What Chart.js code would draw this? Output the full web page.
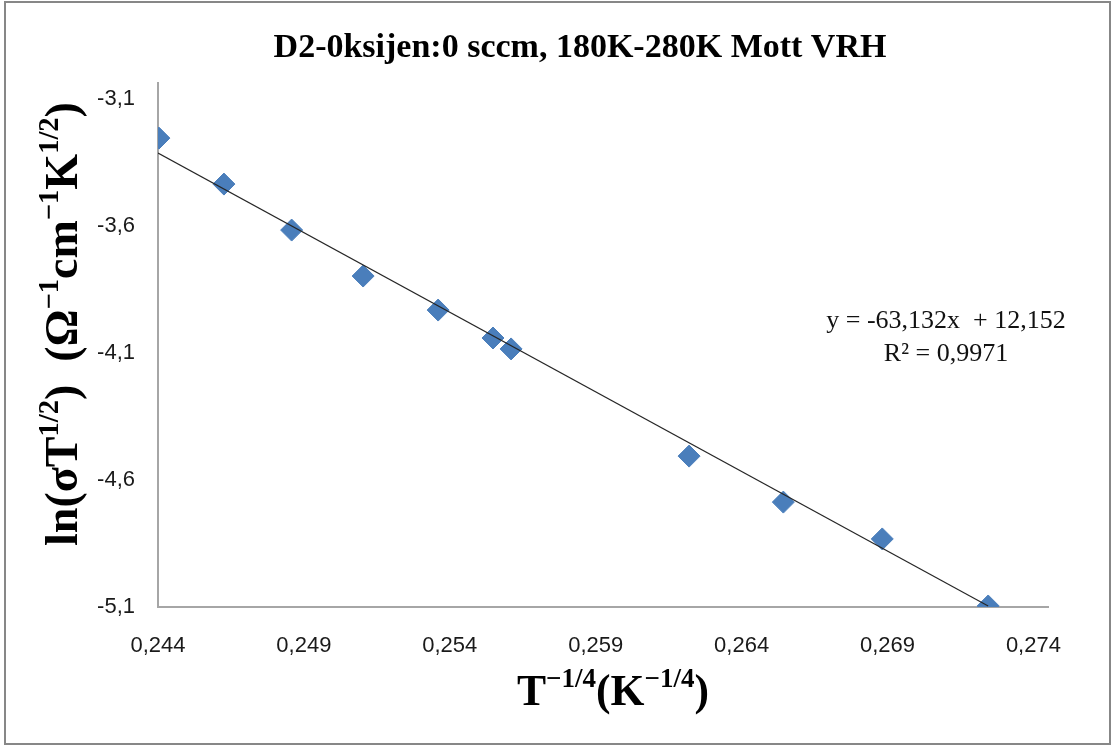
<!DOCTYPE html>
<html>
<head>
<meta charset="utf-8">
<title>D2-0ksijen Mott VRH</title>
<script src="https://cdn.jsdelivr.net/npm/chart.js@4.4.1/dist/chart.umd.min.js"></script>
<style>
    html, body { margin: 0; padding: 0; background: #fff; }
    #wrap { position: relative; width: 1116px; height: 749px; }
</style>
</head>
<body>
<div id="wrap"><canvas id="vrhChart" width="1116" height="749"></canvas></div>
<script>
// measured points, T^-1/4 vs ln(sigma T^1/2)
const xValues = [0.24403, 0.24626, 0.24858, 0.25103, 0.2536, 0.25548, 0.2561, 0.2622, 0.26543, 0.26882, 0.27245];
const yValues = [-3.254, -3.435, -3.616, -3.797, -3.931, -4.041, -4.084, -4.506, -4.687, -4.832, -5.096];

// linear trend line ends
const trendX = [0.244, 0.27245];
const trendY = [-3.313, -5.096];

const xTicks = [0.244, 0.249, 0.254, 0.259, 0.264, 0.269, 0.274];
const xTickLabels = ['0,244', '0,249', '0,254', '0,259', '0,264', '0,269', '0,274'];
const yTicks = [-5.1, -4.6, -4.1, -3.6, -3.1];
const yTickLabels = ['-5,1', '-4,6', '-4,1', '-3,6', '-3,1'];

const chartTitle = 'D2-0ksijen:0 sccm, 180K-280K Mott VRH';
const equationLines = ['y = -63,132x  + 12,152', 'R\u00B2 = 0,9971'];

const SERIF = '"Liberation Serif", "Times New Roman", serif';
const SANS = '"Liberation Sans", Arial, sans-serif';

// draws text pieces with superscripts, centred on x
function richWidth(ctx, segs, size) {
    let w = 0;
    segs.forEach(s => {
        ctx.font = 'bold ' + (s.sup ? size * 0.62 : size) + 'px ' + SERIF;
        w += ctx.measureText(s.t).width;
    });
    return w;
}

function drawRich(ctx, segs, cx, baseline, size) {
    let x = cx - richWidth(ctx, segs, size) / 2;
    ctx.textAlign = 'left';
    ctx.textBaseline = 'alphabetic';
    segs.forEach(s => {
        const fs = s.sup ? size * 0.62 : size;
        ctx.font = 'bold ' + fs + 'px ' + SERIF;
        ctx.fillText(s.t, x, s.sup ? baseline - size * 0.42 : baseline);
        x += ctx.measureText(s.t).width;
    });
}

function fitSize(ctx, segs, target) {
    return 40 * target / richWidth(ctx, segs, 40);
}

const yTitleSegs = [
    { t: 'ln(\u03C3T' }, { t: '1/2', sup: true }, { t: ')' },
    { t: '  (\u03A9' }, { t: '\u22121', sup: true }, { t: 'cm' },
    { t: '\u22121', sup: true }, { t: 'K' }, { t: '1/2', sup: true }, { t: ')' }
];
const xTitleSegs = [
    { t: 'T' }, { t: '\u22121/4', sup: true }, { t: '(K' }, { t: '\u22121/4', sup: true }, { t: ')' }
];

const decorPlugin = {
    id: 'decor',
    afterDraw(chart) {
        const ctx = chart.ctx;
        const area = chart.chartArea;
        ctx.save();
        ctx.fillStyle = '#000';

        // title
        ctx.font = 'bold 34px ' + SERIF;
        ctx.textAlign = 'center';
        ctx.textBaseline = 'alphabetic';
        ctx.fillText(chartTitle, 580, 57);

        // x axis title
        const xs = fitSize(ctx, xTitleSegs, 192);
        drawRich(ctx, xTitleSegs, 613, 705, xs);

        // y axis title, rotated
        ctx.save();
        ctx.translate(77, 324);
        ctx.rotate(-Math.PI / 2);
        const ys = fitSize(ctx, yTitleSegs, 444);
        drawRich(ctx, yTitleSegs, 0, 0, ys);
        ctx.restore();

        // trend equation
        ctx.font = '26px ' + SERIF;
        ctx.textAlign = 'center';
        ctx.fillStyle = '#111';
        ctx.fillText(equationLines[0], area.right - 102, 328);
        ctx.fillText(equationLines[1], area.right - 102, 361);

        // outer frame
        ctx.strokeStyle = '#878787';
        ctx.lineWidth = 2;
        ctx.strokeRect(5, 2, 1105, 742);
        ctx.restore();
    }
};

const ctx = document.getElementById('vrhChart').getContext('2d');
const vrhChart = new Chart(ctx, {
    type: 'scatter',
    data: {
        datasets: [{
            label: 'Linear',
            data: trendX.map((x, i) => ({ x: x, y: trendY[i] })),
            showLine: true,
            borderColor: '#262626',
            borderWidth: 1.2,
            pointRadius: 0,
            order: 0
        }, {
            label: 'Data',
            data: xValues.map((x, i) => ({ x: x, y: yValues[i] })),
            pointStyle: 'rectRot',
            pointRadius: 11,
            backgroundColor: '#4A7EBB',
            borderColor: '#4A7EBB',
            borderWidth: 1,
            order: 1
        }]
    },
    options: {
        responsive: false,
        animation: false,
        layout: { padding: { top: 83, right: 68, left: 0, bottom: 0 } },
        plugins: {
            legend: { display: false },
            tooltip: { enabled: false },
            title: { display: false }
        },
        scales: {
            x: {
                type: 'linear',
                min: 0.244,
                max: 0.2745,
                grid: { display: false },
                border: { display: true, color: '#a6a6a6', width: 2 },
                afterBuildTicks: scale => { scale.ticks = xTicks.map(v => ({ value: v })); },
                afterFit: scale => { scale.height = 142; },
                ticks: {
                    padding: 18,
                    color: '#1a1a1a',
                    font: { family: SANS, size: 22 },
                    callback: (v, i) => xTickLabels[i]
                }
            },
            y: {
                type: 'linear',
                min: -5.1,
                max: -3.037,
                grid: { display: false },
                border: { display: true, color: '#a6a6a6', width: 2 },
                afterBuildTicks: scale => { scale.ticks = yTicks.map(v => ({ value: v })); },
                afterFit: scale => { scale.width = 158; },
                ticks: {
                    padding: 15,
                    color: '#1a1a1a',
                    font: { family: SANS, size: 22 },
                    callback: (v, i) => yTickLabels[i]
                }
            }
        }
    },
    plugins: [decorPlugin]
});
</script>
</body>
</html>
